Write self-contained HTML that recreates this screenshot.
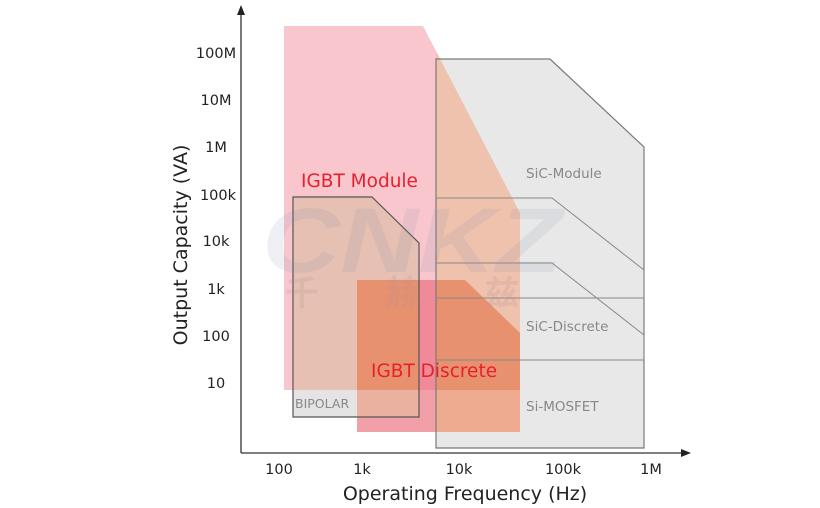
<!DOCTYPE html>
<html><head><meta charset="utf-8"><style>
html,body{margin:0;padding:0;background:#fff;}
svg{display:block;font-family:"DejaVu Sans","Liberation Sans",sans-serif;}
</style></head><body>
<svg width="820" height="508" viewBox="0 0 820 508" xmlns="http://www.w3.org/2000/svg">
<defs>
<clipPath id="cdisc"><polygon points="357,280 465,280 520,333 520,432 357,432"/></clipPath>
</defs>
<polygon points="436,59 550,59 644,147 644,448 436,448" fill="#e8e8e8"/>
<polygon points="284,26 423,26 520,213 520,390 284,390" fill="#f8c6cc"/>
<polygon points="436,51 440,59 520,213 520,390 436,390" fill="#efc2ad"/>
<polygon points="293,197 372,197 419,243 419,390 293,390" fill="#e6c0b2"/>
<rect x="293" y="390" width="126" height="27" fill="#e4e4e4"/>
<g clip-path="url(#cdisc)">
<rect x="357" y="280" width="163" height="152" fill="#f2a0a7"/>
<rect x="357" y="280" width="62" height="110" fill="#e8916f"/>
<rect x="419" y="280" width="17" height="110" fill="#f08a99"/>
<rect x="436" y="280" width="84" height="110" fill="#e8916f"/>
<rect x="436" y="390" width="84" height="42" fill="#eeab90"/>
<rect x="357" y="390" width="62" height="27" fill="#eab0a0"/>
</g>
<polygon points="436,59 550,59 644,147 644,448 436,448" fill="none" stroke="#7a7a7a" stroke-width="1.2"/>
<polygon points="293,197 372,197 419,243 419,417 293,417" fill="none" stroke="#555" stroke-width="1.2"/>
<polyline points="436,198 552,198 644,270 644,298 436,298" fill="none" stroke="#888" stroke-width="1"/>
<polyline points="436,263 552,263 644,335 644,360 436,360" fill="none" stroke="#888" stroke-width="1"/>
<text x="262" y="272" font-size="92" font-style="italic" font-weight="bold" fill="#8090b0" opacity="0.13" textLength="300" lengthAdjust="spacingAndGlyphs" font-family="Liberation Sans">CNKZ</text>
<g font-size="34" font-weight="bold" fill="#b09090" opacity="0.2" font-family="'Noto Sans CJK SC',sans-serif">
<text x="285" y="305">千</text><text x="385" y="305">赫</text><text x="485" y="305">兹</text>
</g>
<line x1="241" y1="453" x2="241" y2="12" stroke="#333" stroke-width="1.3"/>
<polygon points="241,5 237,15 245,15" fill="#222"/>
<line x1="241" y1="453" x2="684" y2="453" stroke="#333" stroke-width="1.3"/>
<polygon points="691,453 681,449 681,457" fill="#222"/>
<g font-size="14.5" fill="#222" text-anchor="middle">
<text x="216" y="58">100M</text><text x="216" y="105">10M</text><text x="216" y="152">1M</text>
<text x="218" y="200">100k</text><text x="216" y="246">10k</text><text x="216" y="294">1k</text>
<text x="216" y="341">100</text><text x="216" y="388">10</text>
<text x="279" y="474">100</text><text x="362" y="474">1k</text><text x="459" y="474">10k</text>
<text x="563" y="474">100k</text><text x="651" y="474">1M</text>
</g>
<text x="465" y="500" font-size="19" fill="#222" text-anchor="middle">Operating Frequency (Hz)</text>
<text transform="translate(187,245) rotate(-90)" font-size="19" fill="#222" text-anchor="middle">Output Capacity (VA)</text>
<text x="301" y="187" font-size="18.5" fill="#e8202e">IGBT Module</text>
<text x="371" y="377" font-size="18.5" fill="#e8202e">IGBT Discrete</text>
<g font-size="13.5" fill="#888">
<text x="526" y="178">SiC-Module</text>
<text x="526" y="331">SiC-Discrete</text>
<text x="526" y="411">Si-MOSFET</text>
<text x="295" y="408" font-size="12.5">BIPOLAR</text>
</g>
</svg>
</body></html>
